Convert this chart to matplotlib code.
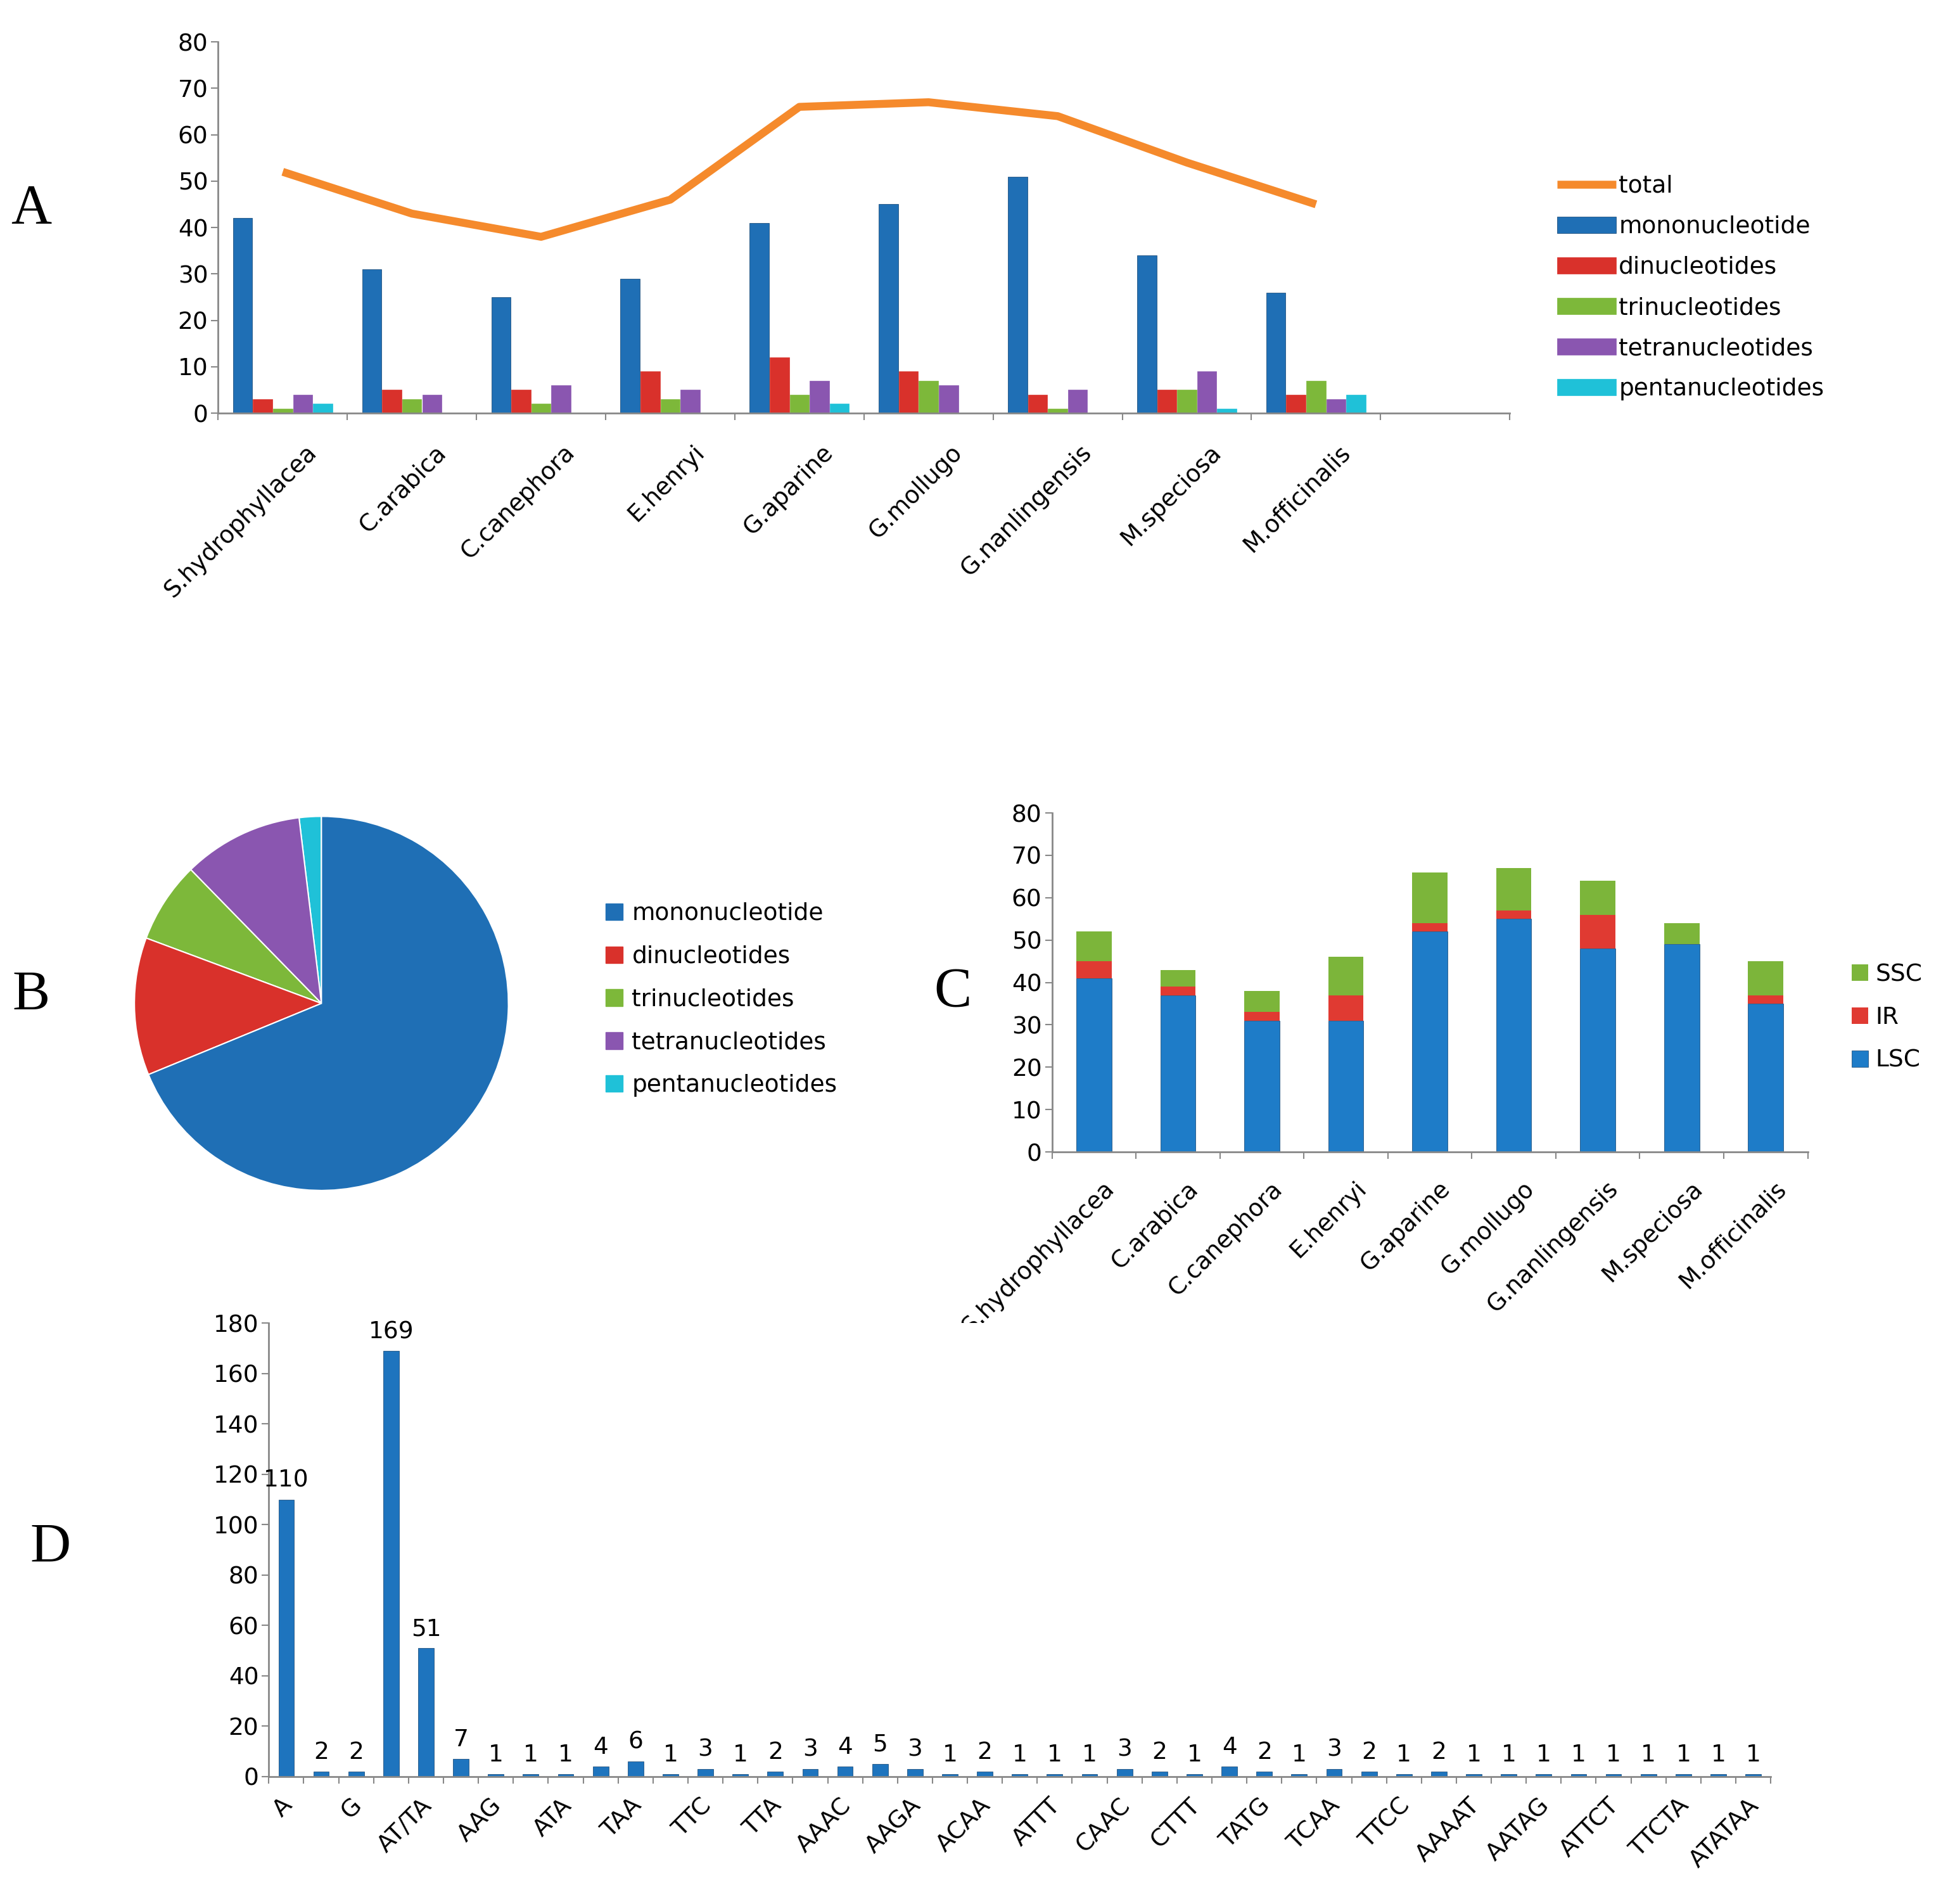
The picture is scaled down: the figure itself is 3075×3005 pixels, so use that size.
import matplotlib
matplotlib.use("Agg")
import matplotlib.pyplot as plt
import numpy as np

species = ["S.hydrophyllacea", "C.arabica", "C.canephora", "E.henryi", "G.aparine",
           "G.mollugo", "G.nanlingensis", "M.speciosa", "M.officinalis"]
mono = [42, 31, 25, 29, 41, 45, 51, 34, 26]
di = [3, 5, 5, 9, 12, 9, 4, 5, 4]
tri = [1, 3, 2, 3, 4, 7, 1, 5, 7]
tetra = [4, 4, 6, 5, 7, 6, 5, 9, 3]
penta = [2, 0, 0, 0, 2, 0, 0, 1, 4]
total = [52, 43, 38, 46, 66, 67, 64, 54, 45]

pie_labels = ["mononucleotide", "dinucleotides", "trinucleotides", "tetranucleotides", "pentanucleotides"]
pie_values = [324, 56, 33, 49, 9]

lsc = [41, 37, 31, 31, 52, 55, 48, 49, 35]
ir = [4, 2, 2, 6, 2, 2, 8, 0, 2]
ssc = [7, 4, 5, 9, 12, 10, 8, 5, 8]

motifs = ["A", "C", "G", "T", "AT/TA", "AAT", "AAG", "ATT", "ATA", "TTA2", "TAA", "TTG", "TTC",
          "AAT2", "TTA", "ATTA", "AAAC", "AAAG", "AAGA", "AATT", "ACAA", "AGAT", "ATTT", "CAAA",
          "CAAC", "CTAT", "CTTT", "GAAA", "TATG", "TCAT", "TCAA", "TTAT", "TTCC", "AAAAC", "AAAAT",
          "AAATT", "AATAG", "ATAAA", "ATTCT", "TATTT", "TTCTA", "TTTAT", "ATATAA"]
motif_counts = [110, 2, 2, 169, 51, 7, 1, 1, 1, 4, 6, 1, 3, 1, 2, 3, 4, 5, 3, 1, 2, 1, 1, 1,
                3, 2, 1, 4, 2, 1, 3, 2, 1, 2, 1, 1, 1, 1, 1, 1, 1, 1, 1]

cols5 = ["#1F6FB5", "#D9312B", "#7DB83A", "#8A56B0", "#1FC1D8"]
orange = "#F58A2C"
FS = 27

fig = plt.figure(figsize=(30.75, 30.05), dpi=100)

def style(ax):
    for s in ["top", "right"]:
        ax.spines[s].set_visible(False)
    for s in ["left", "bottom"]:
        ax.spines[s].set_color("#888888")
        ax.spines[s].set_linewidth(2)
    ax.tick_params(labelsize=FS, length=8, width=1.5, color="#888888")

# Panel A
axA = fig.add_axes([0.112, 0.783, 0.663, 0.195])
x = np.arange(len(species))
series = [mono, di, tri, tetra, penta]
offs = [-0.31, -0.155, 0.0, 0.155, 0.31]
for vals, o, c, lab in zip(series, offs, cols5, pie_labels):
    axA.bar(x + o, vals, width=0.15, color=c, edgecolor="#0b3d6b" if c == cols5[0] else c, linewidth=0.5, label=lab)
axA.plot(x, total, color=orange, lw=9, label="total", solid_capstyle="butt")
axA.set_xlim(-0.5, 9.5)
axA.set_ylim(0, 80)
axA.set_yticks(range(0, 81, 10))
axA.set_xticks(np.arange(-0.5, 10.5, 1), minor=False)
axA.set_xticklabels([])
axA.tick_params(axis="x", length=14)
for i, s in enumerate(species):
    axA.text(i + 0.3, -6, s, rotation=45, ha="right", va="top", fontsize=FS)
style(axA)
axA.legend(loc="upper left", bbox_to_anchor=(1.02, 0.7), frameon=False, fontsize=FS,
           handlelength=2.5, handletextpad=0.1, labelspacing=0.75)

# Panel B
axB = fig.add_axes([0.045, 0.35, 0.24, 0.246])
order = [4, 3, 2, 1, 0]
wedges, _ = axB.pie([pie_values[i] for i in order], colors=[cols5[i] for i in order],
                    startangle=90, counterclock=True,
                    wedgeprops=dict(edgecolor="white", linewidth=1.5))
axB.set_aspect("equal")
handles = [plt.Rectangle((0, 0), 1, 1, color=c) for c in cols5]
fig.legend(handles, pie_labels, loc="center left", bbox_to_anchor=(0.30, 0.475), frameon=False,
           fontsize=FS, handlelength=0.7, handleheight=0.7, handletextpad=0.4, labelspacing=0.85)

# Panel C
axC = fig.add_axes([0.540, 0.395, 0.388, 0.178])
axC.bar(x, lsc, width=0.42, color="#1E7CC8", edgecolor="#0b3d6b", linewidth=0.5, label="LSC")
axC.bar(x, ir, width=0.42, bottom=lsc, color="#E03A32", label="IR")
b2 = np.array(lsc) + np.array(ir)
axC.bar(x, ssc, width=0.42, bottom=b2, color="#7CB53A", label="SSC")
axC.set_xlim(-0.5, 8.5)
axC.set_ylim(0, 80)
axC.set_yticks(range(0, 81, 10))
axC.set_xticks(np.arange(-0.5, 9.5, 1))
axC.set_xticklabels([])
axC.tick_params(axis="x", length=14)
for i, s in enumerate(species):
    axC.text(i + 0.3, -6, s, rotation=45, ha="right", va="top", fontsize=FS)
style(axC)
h, l = axC.get_legend_handles_labels()
axC.legend(h[::-1], l[::-1], loc="upper left", bbox_to_anchor=(1.03, 0.62), frameon=False,
           fontsize=FS, handlelength=0.7, handleheight=0.7, handletextpad=0.3, labelspacing=0.85)

# Panel D
axD = fig.add_axes([0.138, 0.067, 0.771, 0.238])
xd = np.arange(len(motifs))
axD.bar(xd, motif_counts, width=0.45, color="#1E74BE", edgecolor="#0b3d6b", linewidth=0.5)
for i, v in enumerate(motif_counts):
    axD.text(i, v + 3, str(v), ha="center", va="bottom", fontsize=FS)
axD.set_xlim(-0.5, len(motifs) - 0.5)
axD.set_ylim(0, 180)
axD.set_yticks(range(0, 181, 20))
axD.set_xticks(np.arange(-0.5, len(motifs) + 0.5, 1))
axD.set_xticklabels([])
axD.tick_params(axis="x", length=14)
for i in range(0, len(motifs), 2):
    axD.text(i + 0.3, -7, motifs[i], rotation=45, ha="right", va="top", fontsize=FS)
style(axD)

for t, xx, yy in [("A", 0.016, 0.89), ("B", 0.016, 0.477), ("C", 0.489, 0.479), ("D", 0.026, 0.187)]:
    fig.text(xx, yy, t, fontsize=64, family="Liberation Serif", ha="center", va="center")

fig.savefig("out.png", dpi=100, facecolor="white")
